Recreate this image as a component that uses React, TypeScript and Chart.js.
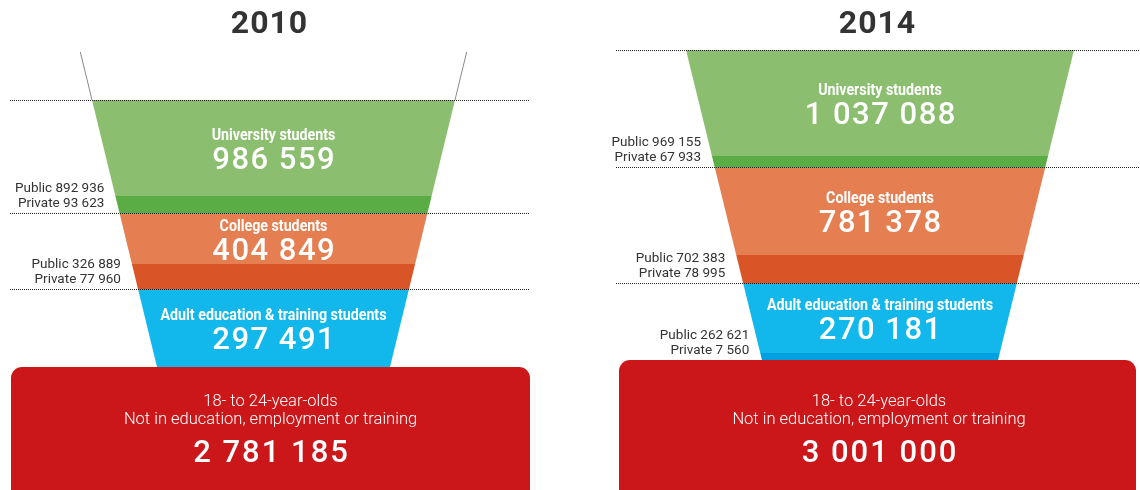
import React, { useEffect, useRef } from 'react';
import { Chart, registerables } from 'chart.js';

Chart.register(...registerables);

// ---------- data ----------
const years = ['2010', '2014'];
const categories = ['University students', 'College students', 'Adult education & training students'];
const totals2010 = [986559, 404849, 297491];
const public2010: (number | null)[] = [892936, 326889, null];
const private2010: (number | null)[] = [93623, 77960, null];
const totals2014 = [1037088, 781378, 270181];
const public2014: (number | null)[] = [969155, 702383, 262621];
const private2014: (number | null)[] = [67933, 78995, 7560];
const neetLines = ['18- to 24-year-olds', 'Not in education, employment or training'];
const neetValues = [2781185, 3001000];

const totals = [totals2010, totals2014];
const publics = [public2010, public2014];
const privates = [private2010, private2014];

// ---------- layout (scale units) ----------
const W = 1140;
const H = 490;
const panels = [
  {
    titleX: 269, cx: 273.5, halfTop: 181.5, slope: 0.2434,
    edges: [100, 213, 289, 367], privTop: [196, 264, null] as (number | null)[],
    extTop: 52 as number | null, guide: [10, 530], box: [11, 530], boxTop: 367, boxTextX: 270.5,
  },
  {
    titleX: 877, cx: 880, halfTop: 194, slope: 0.245,
    edges: [50, 167, 283, 360], privTop: [156, 255, 353] as (number | null)[],
    extTop: null as number | null, guide: [616, 1140], box: [619, 1136], boxTop: 360, boxTextX: 879,
  },
];
const boxTextY = [406, 424, 462];

// ---------- style ----------
const segColors = ['#8BBE6E', '#E57F52', '#12B8EC'];
const privColors = ['#5AAC44', '#D95528', '#03A0E0'];
const neetColor = '#CC171A';
const darkText = '#333333';
const FONT = 'Roboto, "Liberation Sans", sans-serif';

const fmt = (n: number) => n.toString().replace(/\B(?=(\d{3})+(?!\d))/g, ' ');

export default function App() {
  const ref = useRef<HTMLCanvasElement>(null);

  useEffect(() => {
    const canvas = ref.current!;
    const funnelPlugin = {
      id: 'funnel',
      afterDraw(chart: any) {
        const ctx: CanvasRenderingContext2D = chart.ctx;
        const xs = chart.scales.x;
        const ys = chart.scales.y;
        const X = (v: number) => xs.getPixelForValue(v);
        const Y = (v: number) => ys.getPixelForValue(v);

        const text = (
          s: string, x: number, y: number, font: string, color: string,
          align: CanvasTextAlign, spacing = 0, condense = 1,
        ) => {
          ctx.save();
          ctx.font = font;
          ctx.fillStyle = color;
          ctx.textBaseline = 'alphabetic';
          (ctx as any).letterSpacing = spacing + 'px';
          let px = X(x);
          if (spacing && align === 'center') px += spacing / 2;
          ctx.textAlign = align;
          ctx.translate(px, Y(y));
          ctx.scale(condense, 1);
          ctx.fillText(s, 0, 0);
          ctx.restore();
        };

        panels.forEach((p, pi) => {
          const half = (y: number) => p.halfTop - p.slope * (y - p.edges[0]);
          const L = (y: number) => p.cx - half(y);
          const R = (y: number) => p.cx + half(y);
          const trap = (y0: number, y1: number, color: string) => {
            ctx.beginPath();
            ctx.moveTo(X(L(y0)), Y(y0));
            ctx.lineTo(X(R(y0)), Y(y0));
            ctx.lineTo(X(R(y1)), Y(y1));
            ctx.lineTo(X(L(y1)), Y(y1));
            ctx.closePath();
            ctx.fillStyle = color;
            ctx.fill();
          };

          // title
          text(years[pi], p.titleX, 33, `bold 32px ${FONT}`, darkText, 'center', 1);

          // extension guide lines
          if (p.extTop !== null) {
            ctx.save();
            ctx.strokeStyle = '#8a8a8a';
            ctx.lineWidth = 1;
            ctx.beginPath();
            ctx.moveTo(X(L(p.extTop)), Y(p.extTop));
            ctx.lineTo(X(L(p.edges[0])), Y(p.edges[0]));
            ctx.moveTo(X(R(p.extTop)), Y(p.extTop));
            ctx.lineTo(X(R(p.edges[0])), Y(p.edges[0]));
            ctx.stroke();
            ctx.restore();
          }

          // funnel segments
          categories.forEach((cat, i) => {
            const y0 = p.edges[i];
            const y1 = p.edges[i + 1];
            const pt = p.privTop[i];
            trap(y0, pt ?? y1, segColors[i]);
            if (pt !== null) trap(pt, y1, privColors[i]);
          });

          // red NEET box
          ctx.save();
          ctx.fillStyle = neetColor;
          ctx.beginPath();
          const bx0 = X(p.box[0]);
          const bx1 = X(p.box[1]);
          const by0 = Y(p.boxTop);
          const by1 = Y(H + 20);
          (ctx as any).roundRect(bx0, by0, bx1 - bx0, by1 - by0, [11, 11, 0, 0]);
          ctx.fill();
          ctx.restore();

          // dotted guide lines
          ctx.save();
          ctx.strokeStyle = '#222';
          ctx.lineWidth = 1;
          ctx.setLineDash([1, 1]);
          for (let k = 0; k < 3; k++) {
            const yy = Math.round(Y(p.edges[k])) + 0.5;
            ctx.beginPath();
            ctx.moveTo(X(p.guide[0]), yy);
            ctx.lineTo(X(p.guide[1]), yy);
            ctx.stroke();
          }
          ctx.restore();

          // segment texts
          categories.forEach((cat, i) => {
            const y0 = p.edges[i];
            const y1 = p.edges[i + 1];
            const pt = p.privTop[i];
            const mid = (y0 + (pt ?? y1)) / 2;
            text(cat, p.cx, mid - 8, `bold 16px ${FONT}`, '#ffffff', 'center', 0, 0.89);
            text(fmt(totals[pi][i]), p.cx, mid + 21, `500 31px ${FONT}`, '#ffffff', 'center', 1.5);
            const pub = publics[pi][i];
            const pri = privates[pi][i];
            if (pub !== null && pri !== null) {
              const rx = L(pt ?? y1) - 11;
              text(`Public ${fmt(pub)}`, rx, y1 - 21, `13.5px ${FONT}`, darkText, 'right');
              text(`Private ${fmt(pri)}`, rx, y1 - 6, `13.5px ${FONT}`, darkText, 'right');
            }
          });

          // NEET texts
          text(neetLines[0], p.boxTextX, boxTextY[0], `300 16.5px ${FONT}`, '#ffffff', 'center');
          text(neetLines[1], p.boxTextX, boxTextY[1], `300 16.5px ${FONT}`, '#ffffff', 'center');
          text(fmt(neetValues[pi]), p.boxTextX, boxTextY[2], `500 31px ${FONT}`, '#ffffff', 'center', 2);
        });
      },
    };

    const chart = new Chart(canvas, {
      type: 'scatter',
      data: { datasets: [{ data: [] }] },
      options: {
        animation: false,
        responsive: false,
        devicePixelRatio: 1,
        events: [],
        layout: { padding: 0 },
        plugins: { legend: { display: false }, tooltip: { enabled: false } },
        scales: {
          x: { type: 'linear', min: 0, max: W, display: false },
          y: { type: 'linear', min: 0, max: H, reverse: true, display: false },
        },
      },
      plugins: [funnelPlugin],
    });
    return () => chart.destroy();
  }, []);

  return (
    <div style={{ position: 'fixed', left: 0, top: 0, width: W, height: H, background: '#fff' }}>
      <canvas ref={ref} width={W} height={H} style={{ display: 'block' }} />
    </div>
  );
}
